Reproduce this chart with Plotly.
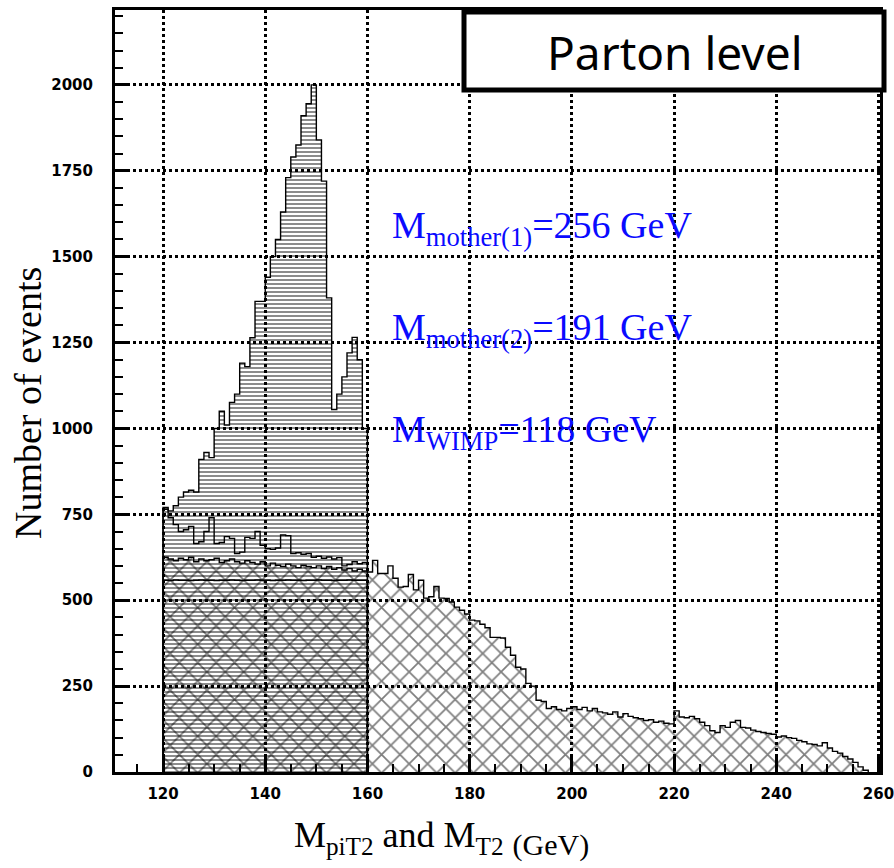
import plotly.graph_objects as go

# ---------------- data (1 GeV bins) ----------------
mpit2_start = 120  # first bin low edge of the 120-160 histograms
mpit2_mother1 = [770, 760, 775, 800, 815, 820, 815, 910, 930, 915,
                 1000, 1050, 1010, 1076, 1100, 1190, 1180, 1264, 1370, 1370,
                 1440, 1500, 1550, 1630, 1730, 1790, 1825, 1910, 1945, 2000,
                 1840, 1720, 1380, 1055, 1100, 1150, 1220, 1265, 1200, 1000]
mpit2_mother2 = [765, 740, 720, 700, 705, 715, 665, 670, 700, 740,
                 665, 668, 685, 680, 636, 640, 683, 680, 700, 660,
                 650, 648, 652, 690, 688, 636, 638, 634, 636, 625,
                 628, 622, 626, 620, 624, 600, 604, 612, 606, 610]
mpit2_wimp = [558, 557, 559, 558, 558, 557, 558, 559, 558, 558,
              557, 558, 558, 559, 558, 557, 558, 558, 559, 558,
              558, 557, 558, 558, 559, 558, 558, 557, 558, 558,
              559, 558, 558, 557, 558, 558, 559, 558, 558, 558]
mt2_start = 120
mt2 = [625, 620, 615, 622, 618, 625, 612, 620, 615, 618,
       622, 610, 615, 620, 612, 608, 615, 610, 605, 612,
       600, 608, 602, 598, 605, 600, 595, 602, 598, 595,
       600, 592, 598, 590, 595, 588, 592, 585, 590, 585,
       582, 616, 578, 578, 600, 564, 538, 540, 575, 530,
       558, 506, 510, 540, 506, 505, 495, 480, 471, 460,
       442, 440, 430, 420, 392, 392, 390, 363, 340, 305,
       300, 258, 250, 209, 205, 185, 190, 182, 178, 185,
       190, 182, 188, 178, 185, 175, 172, 168, 175, 160,
       170, 162, 158, 155, 150, 152, 145, 148, 142, 140,
       178, 160, 158, 162, 155, 145, 135, 120, 115, 135,
       130, 145, 150, 130, 128, 122, 118, 115, 112, 110,
       102, 105, 100, 98, 92, 88, 82, 80, 76, 85,
       70, 60, 55, 45, 38, 28, 15, 5]

x_ticks = [120, 140, 160, 180, 200, 220, 240, 260]
y_ticks = [0, 250, 500, 750, 1000, 1250, 1500, 1750, 2000]

labels = ["M<sub>mother(1)</sub>=256 GeV",
          "M<sub>mother(2)</sub>=191 GeV",
          "M<sub>WIMP</sub>=118 GeV"]
label_y = [1584, 1287, 990]


def centers(start, vals):
    return [start + i + 0.5 for i in range(len(vals))]


def step_xy(start, vals):
    xs = [start] + [start + i for i in range(len(vals))] + [start + len(vals)]
    ys = [0] + list(vals) + [0]
    return xs, ys


fig = go.Figure()

clear = "rgba(0,0,0,0)"

# MT2 cross hatched
fig.add_trace(go.Bar(
    x=centers(mt2_start, mt2), y=mt2, width=1,
    marker=dict(color=clear, line=dict(width=0),
                pattern=dict(shape="x", size=13, solidity=0.25,
                             fgcolor="black", bgcolor=clear)),
    showlegend=False, hoverinfo="skip"))

# MpiT2 (mother 1) horizontal hatch
fig.add_trace(go.Bar(
    x=centers(mpit2_start, mpit2_mother1), y=mpit2_mother1, width=1,
    marker=dict(color=clear, line=dict(width=0),
                pattern=dict(shape="-", size=4, solidity=0.45,
                             fgcolor="black", bgcolor=clear)),
    showlegend=False, hoverinfo="skip"))

# outlines
for start, vals in [(mt2_start, mt2), (mpit2_start, mpit2_mother1),
                    (mpit2_start, mpit2_mother2), (mpit2_start, mpit2_wimp)]:
    xs, ys = step_xy(start, vals)
    fig.add_trace(go.Scatter(x=xs, y=ys, mode="lines", line_shape="hv",
                             line=dict(color="black", width=1.4),
                             showlegend=False, hoverinfo="skip"))

tickfont = dict(family="DejaVu Sans", size=15, color="black", weight="bold")

fig.update_layout(
    width=894, height=868,
    margin=dict(l=115, r=14, t=10, b=96, autoexpand=False),
    paper_bgcolor="white", plot_bgcolor="white",
    barmode="overlay", bargap=0,
    showlegend=False,
    xaxis=dict(range=[110.6, 260.3], tickvals=x_ticks, automargin=False,
               ticks="inside", ticklen=15, tickwidth=3, tickcolor="black",
               minor=dict(dtick=5, tick0=0, ticks="inside", ticklen=8,
                          tickwidth=2, tickcolor="black", showgrid=False),
               showline=True, linewidth=3, linecolor="black", mirror=True,
               showgrid=True, gridcolor="black", gridwidth=2.5, griddash="dot",
               zeroline=False, tickfont=tickfont, ticklabelstandoff=6,
               ticklabeloverflow="allow"),
    yaxis=dict(range=[0, 2218], tickvals=y_ticks, automargin=False,
               ticks="inside", ticklen=15, tickwidth=3, tickcolor="black",
               minor=dict(dtick=50, tick0=0, ticks="inside", ticklen=8,
                          tickwidth=2, tickcolor="black", showgrid=False),
               showline=True, linewidth=3, linecolor="black", mirror=True,
               showgrid=True, gridcolor="black", gridwidth=2.5, griddash="dot",
               zeroline=False, tickfont=tickfont, ticklabelstandoff=16,
               ticklabeloverflow="allow"),
)

serif = "Liberation Serif"

for txt, yv in zip(labels, label_y):
    fig.add_annotation(x=(390 - 115) / 765, xref="paper", y=yv, yref="y",
                       text=txt, showarrow=False, xanchor="left",
                       yanchor="middle",
                       font=dict(family=serif, size=38, color="#0a0aff"))

# axis titles
fig.add_annotation(x=(28 - 115) / 765, xref="paper", y=(772 - 403) / 762,
                   yref="paper", text="Number of events", textangle=-90,
                   showarrow=False, xanchor="center", yanchor="middle",
                   font=dict(family=serif, size=38, color="black"))
fig.add_annotation(x=(292 - 115) / 765, xref="paper", y=(772 - 838) / 762,
                   yref="paper",
                   text="M<sub>piT2</sub> and M<sub>T2</sub> <sub><span style='font-size:30px'>(GeV)</span></sub>",
                   showarrow=False, xanchor="left", yanchor="middle",
                   font=dict(family=serif, size=36, color="black"))

# Parton level box
fig.add_shape(type="rect", xref="paper", yref="paper",
              x0=(464 - 115) / 765, x1=(884 - 115) / 765,
              y0=(772 - 90) / 762, y1=(772 - 12) / 762,
              line=dict(color="black", width=5), fillcolor="white", layer="above")
fig.add_annotation(x=(675 - 115) / 765, xref="paper", y=(772 - 52) / 762,
                   yref="paper", text="Parton level", showarrow=False,
                   xanchor="center", yanchor="middle",
                   font=dict(family="Noto Sans", size=46, color="black"))

fig.write_html("out.html")
